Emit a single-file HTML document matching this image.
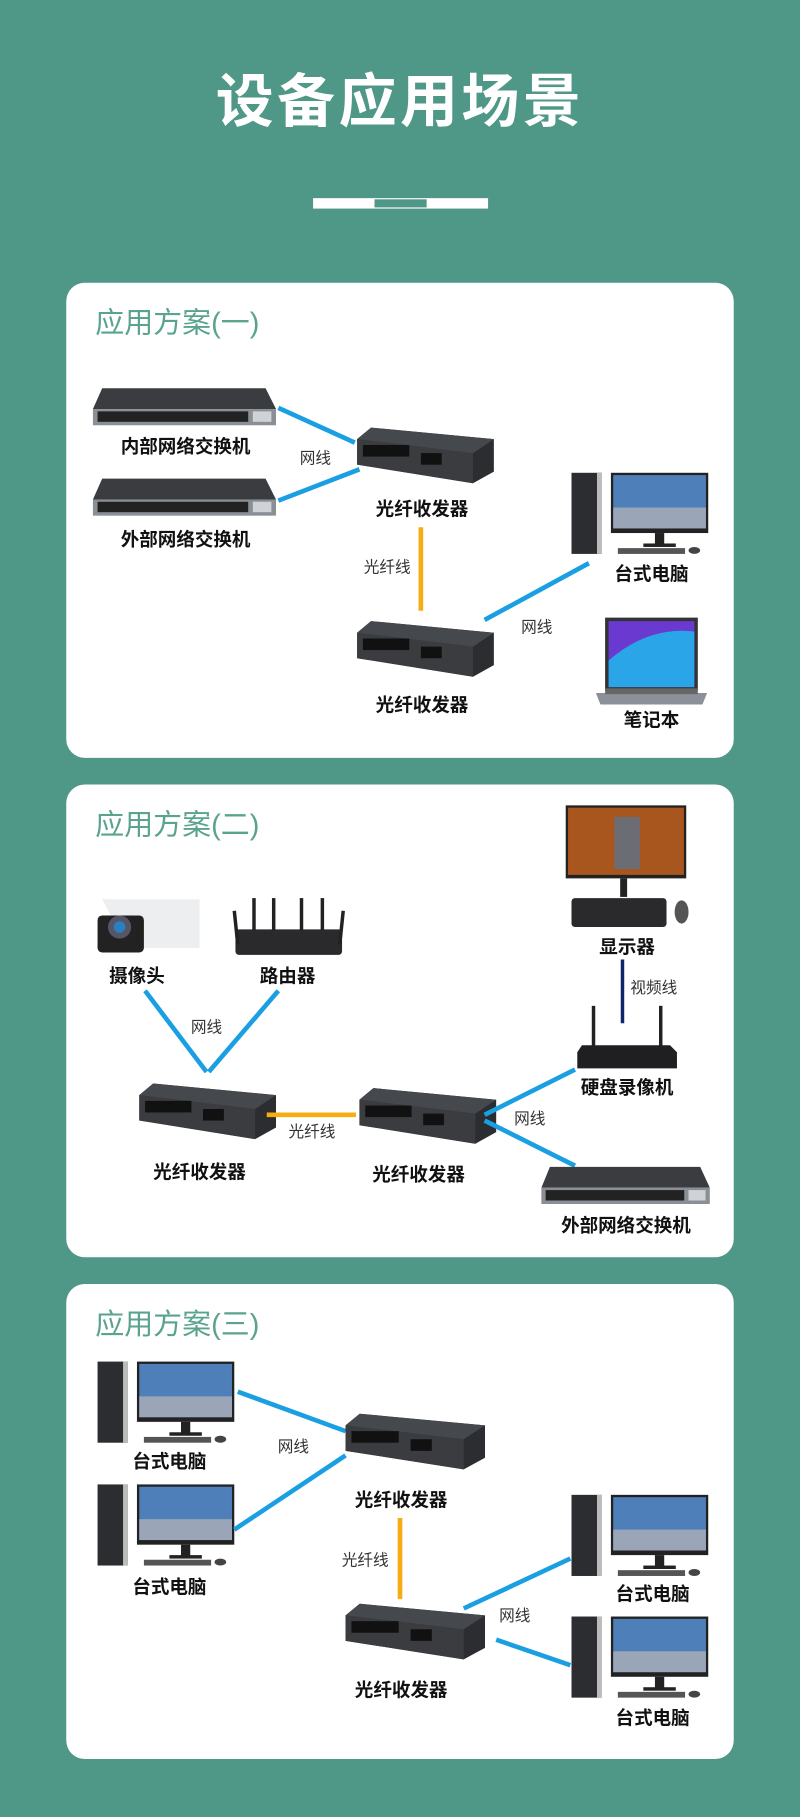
<!DOCTYPE html>
<html><head><meta charset="utf-8"><style>
html,body{margin:0;padding:0;background:#4f9787;}
svg{display:block}
text{font-family:"Liberation Sans","Noto Sans CJK SC",sans-serif;}
.lb{font-size:16px;font-weight:bold;fill:#111;text-anchor:middle}
.sm{font-size:13.5px;fill:#333;text-anchor:middle}
.hd{font-size:25px;fill:#5aa38e}
.bl{stroke:#1b9fe3;stroke-width:4;fill:none}
.or{stroke:#f7ad12;stroke-width:4;fill:none}
</style></head><body>
<svg width="800" height="1817" viewBox="0 0 690 1568" xmlns="http://www.w3.org/2000/svg">
<defs>
<g id="sw">
 <path d="M8 0 H149 L158 18 H0 Z" fill="#3a3c40"/>
 <rect x="0" y="18" width="158" height="14" fill="#8a8f96"/>
 <rect x="4" y="20" width="130" height="9" fill="#222"/>
 <rect x="138" y="20" width="16" height="9" fill="#cfd3d8"/>
</g>
<g id="tr">
 <path d="M12 0 L118 10 V38 L100 48 L0 32 V10 Z" fill="#2b2d30"/>
 <path d="M0 10 L100 22 V48 L0 32 Z" fill="#3a3c40"/>
 <path d="M12 0 L118 10 L100 22 L0 10 Z" fill="#45484d"/>
 <rect x="5" y="15" width="40" height="10" fill="#111"/>
 <rect x="55" y="22" width="18" height="10" fill="#111"/>
</g>
<g id="pc">
 <rect x="0" y="0" width="26" height="70" fill="#2c2d30"/>
 <rect x="22" y="0" width="4" height="70" fill="#bbb"/>
 <rect x="34" y="0" width="84" height="52" fill="#222"/>
 <rect x="36" y="2" width="80" height="46" fill="#4f7fb8"/>
 <rect x="36" y="30" width="80" height="18" fill="#9aa6b8"/>
 <rect x="72" y="52" width="8" height="10" fill="#222"/>
 <rect x="62" y="61" width="28" height="3" fill="#222"/>
 <rect x="40" y="65" width="58" height="5" fill="#555"/>
 <ellipse cx="106" cy="67" rx="5" ry="3" fill="#444"/>
</g>
</defs>
<rect width="690" height="1568" fill="#4f9787"/>
<text x="345" y="105" font-size="50" font-weight="bold" fill="#fff" text-anchor="middle" letter-spacing="3">设备应用场景</text>
<rect x="270" y="171" width="151" height="9" fill="#fff"/>
<rect x="323" y="172" width="45" height="7" fill="#4f9787"/>

<!-- card 1 -->
<rect x="57" y="244" width="576" height="410" rx="16" fill="#fff"/>
<text x="82" y="287" class="hd">应用方案(一)</text>
<use href="#sw" x="80" y="335"/>
<text x="160" y="391" class="lb">内部网络交换机</text>
<use href="#sw" x="80" y="413"/>
<text x="160" y="471" class="lb">外部网络交换机</text>
<line x1="240" y1="352" x2="306" y2="382" class="bl"/>
<line x1="240" y1="432" x2="310" y2="405" class="bl"/>
<text x="272" y="400" class="sm">网线</text>
<use href="#tr" x="308" y="369"/>
<text x="364" y="445" class="lb">光纤收发器</text>
<line x1="363" y1="455" x2="363" y2="527" class="or"/>
<text x="334" y="494" class="sm">光纤线</text>
<use href="#tr" x="308" y="536"/>
<text x="364" y="614" class="lb">光纤收发器</text>
<line x1="418" y1="535" x2="508" y2="486" class="bl"/>
<text x="463" y="546" class="sm">网线</text>
<use href="#pc" x="493" y="408"/>
<text x="562" y="501" class="lb">台式电脑</text>
<path d="M522 533 H602 V596 H522 Z" fill="#333"/>
<rect x="525" y="536" width="74" height="57" fill="#6a3ad0"/>
<path d="M525 570 Q560 540 599 545 V593 H525 Z" fill="#2aa6e8"/>
<path d="M514 598 H610 L606 608 H518 Z" fill="#8c9099"/>
<rect x="522" y="594" width="80" height="5" fill="#666"/>
<text x="562" y="627" class="lb">笔记本</text>

<!-- card 2 -->
<rect x="57" y="677" width="576" height="408" rx="16" fill="#fff"/>
<text x="82" y="720" class="hd">应用方案(二)</text>
<path d="M88 776 H172 V818 H110 Z" fill="#eceef0"/>
<rect x="84" y="790" width="40" height="32" rx="4" fill="#222"/>
<circle cx="103" cy="800" r="10" fill="#556"/>
<circle cx="103" cy="800" r="5" fill="#2a7fc0"/>
<text x="118" y="848" class="lb">摄像头</text>
<rect x="203" y="802" width="92" height="22" rx="3" fill="#2a2a2c"/>
<g stroke="#222" stroke-width="3">
<line x1="202" y1="786" x2="205" y2="815"/><line x1="219" y1="775" x2="219" y2="803"/><line x1="236" y1="775" x2="236" y2="803"/><line x1="260" y1="775" x2="260" y2="803"/><line x1="278" y1="775" x2="278" y2="803"/><line x1="296" y1="786" x2="293" y2="815"/></g>
<text x="248" y="848" class="lb">路由器</text>
<line x1="125" y1="855" x2="178" y2="925" class="bl"/>
<line x1="240" y1="855" x2="180" y2="925" class="bl"/>
<text x="178" y="891" class="sm">网线</text>
<use href="#tr" x="120" y="935"/>
<text x="172" y="1017" class="lb">光纤收发器</text>
<line x1="230" y1="962" x2="307" y2="962" class="or"/>
<text x="269" y="981" class="sm">光纤线</text>
<use href="#tr" x="310" y="939"/>
<text x="361" y="1019" class="lb">光纤收发器</text>
<rect x="488" y="695" width="104" height="63" fill="#222"/>
<rect x="490" y="697" width="100" height="58" fill="#a8561e"/>
<rect x="530" y="705" width="22" height="45" fill="#6c6c74"/>
<rect x="535" y="758" width="6" height="16" fill="#222"/>
<rect x="493" y="775" width="82" height="25" rx="3" fill="#2a2a2c"/>
<ellipse cx="588" cy="787" rx="6" ry="10" fill="#555"/>
<text x="541" y="823" class="lb">显示器</text>
<line x1="537" y1="828" x2="537" y2="883" stroke="#10246e" stroke-width="3"/>
<text x="564" y="857" class="sm">视频线</text>
<line x1="512" y1="868" x2="512" y2="903" stroke="#222" stroke-width="3"/>
<line x1="570" y1="868" x2="570" y2="903" stroke="#222" stroke-width="3"/>
<path d="M502 902 H578 L584 908 V922 H498 V908 Z" fill="#1f1f21"/>
<text x="541" y="944" class="lb">硬盘录像机</text>
<line x1="418" y1="962" x2="496" y2="923" class="bl"/>
<line x1="418" y1="967" x2="496" y2="1006" class="bl"/>
<text x="457" y="970" class="sm">网线</text>
<use href="#sw" x="467" y="1007" transform="translate(467 1007) scale(0.92 1) translate(-467 -1007)"/>
<text x="540" y="1063" class="lb">外部网络交换机</text>

<!-- card 3 -->
<rect x="57" y="1108" width="576" height="410" rx="16" fill="#fff"/>
<text x="82" y="1151" class="hd">应用方案(三)</text>
<use href="#pc" x="84" y="1175"/>
<text x="146" y="1267" class="lb">台式电脑</text>
<use href="#pc" x="84" y="1281"/>
<text x="146" y="1375" class="lb">台式电脑</text>
<line x1="205" y1="1201" x2="298" y2="1235" class="bl"/>
<line x1="202" y1="1320" x2="298" y2="1256" class="bl"/>
<text x="253" y="1253" class="sm">网线</text>
<use href="#tr" x="298" y="1220" transform="translate(298 1220) scale(1.02 1) translate(-298 -1220)"/>
<text x="346" y="1300" class="lb">光纤收发器</text>
<line x1="345" y1="1310" x2="345" y2="1380" class="or"/>
<text x="315" y="1351" class="sm">光纤线</text>
<use href="#tr" x="298" y="1384" transform="translate(298 1384) scale(1.02 1) translate(-298 -1384)"/>
<text x="346" y="1464" class="lb">光纤收发器</text>
<line x1="400" y1="1388" x2="492" y2="1345" class="bl"/>
<line x1="428" y1="1415" x2="492" y2="1437" class="bl"/>
<text x="444" y="1399" class="sm">网线</text>
<use href="#pc" x="493" y="1290"/>
<text x="563" y="1381" class="lb">台式电脑</text>
<use href="#pc" x="493" y="1395"/>
<text x="563" y="1488" class="lb">台式电脑</text>
</svg>
</body></html>
